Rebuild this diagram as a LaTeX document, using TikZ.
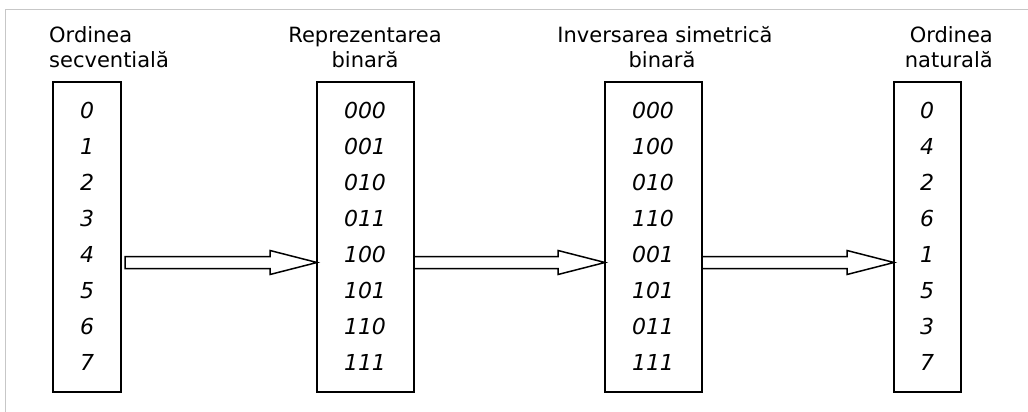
\documentclass[tikz,border=0pt]{standalone}
\usepackage{fontspec}
\setmainfont{DejaVu Sans}
\usetikzlibrary{calc}
\begin{document}
\begin{tikzpicture}[x=1pt,y=-1pt,
  frame/.style={draw=black!22,line width=1.6pt},
  colbox/.style={draw=black,line width=1.8pt,inner sep=0pt},
  lbl/.style={inner sep=0pt,font=\fontsize{21}{24}\selectfont},
  val/.style={inner sep=0pt,anchor=base,font=\fontsize{22}{24}\selectfont\itshape},
  fatarrow/.style={draw=black,line width=1.5pt,fill=white,line join=miter}]
\useasboundingbox (0,0) rectangle (1028,412);
\draw[frame] (5.5,412) -- (5.5,9.5) -- (1028,9.5);
% boxes
\draw[colbox] (53,82) rectangle (121,392);
\draw[colbox] (317,82) rectangle (414,392);
\draw[colbox] (605,82) rectangle (702,392);
\draw[colbox] (894,82) rectangle (961,392);
\node[coordinate] (b1w) at (53,262.5) {};
\node[coordinate] (b1e) at (121,262.5) {};
\node[coordinate] (b2w) at (317,262.5) {};
\node[coordinate] (b2e) at (414,262.5) {};
\node[coordinate] (b3w) at (605,262.5) {};
\node[coordinate] (b3e) at (702,262.5) {};
\node[coordinate] (b4w) at (894,262.5) {};
% labels
\node[lbl,anchor=base west] (l1a) at (49,43) {Ordinea};
\node[lbl,anchor=base west] (l1b) at (49,67) {secventială};
\node[lbl,anchor=base] (l2a) at (365,43) {Reprezentarea};
\node[lbl,anchor=base] (l2b) at (365,67) {binară};
\node[lbl,anchor=base] (l3a) at (665,43) {Inversarea simetrică};
\node[lbl,anchor=base] (l3b) at (662,67) {binară};
\node[lbl,anchor=base east] (l4a) at (993,43) {Ordinea};
\node[lbl,anchor=base east] (l4b) at (993,67) {naturală};
% values
\foreach \a/\b/\c/\d [count=\k from 0] in {0/000/000/0,1/001/100/4,2/010/010/2,3/011/110/6,4/100/001/1,5/101/101/5,6/110/011/3,7/111/111/7}{
  \node[val] (v1-\k) at (87,118+36*\k) {\a};
  \node[val] (v2-\k) at (365,118+36*\k) {\b};
  \node[val] (v3-\k) at (653,118+36*\k) {\c};
  \node[val] (v4-\k) at (927,118+36*\k) {\d};
}
% arrows
\foreach \t/\p/\off in {b1e/b2w/4,b2e/b3w/0,b3e/b4w/0}{
  \draw[fatarrow] ($(\t)+(\off,-6)$) -- ($(\p)+(-47,-6)$) -- ($(\p)+(-47,-12)$) -- (\p)
     -- ($(\p)+(-47,12)$) -- ($(\p)+(-47,6)$) -- ($(\t)+(\off,6)$) -- cycle;
}
\end{tikzpicture}
\end{document}
